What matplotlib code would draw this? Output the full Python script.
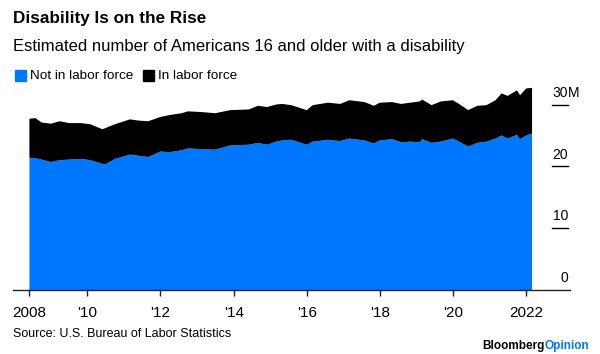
import matplotlib
matplotlib.use('agg')
import matplotlib.pyplot as plt
import pandas as pd

plt.rcParams['font.family'] = ['Liberation Sans', 'DejaVu Sans']

# values (millions)
months = ['2008-06', '2008-08', '2008-10', '2009-01', '2009-04', '2009-07', '2009-11',
          '2010-02', '2010-06', '2010-07', '2010-10', '2011-03', '2011-06', '2011-09',
          '2012-01', '2012-04', '2012-08', '2012-10', '2013-02', '2013-07', '2013-12',
          '2014-06', '2014-09', '2014-12', '2015-03', '2015-05', '2015-08', '2016-01',
          '2016-03', '2016-08', '2016-12', '2017-03', '2017-08', '2017-11', '2018-01',
          '2018-05', '2018-08', '2018-11', '2019-02', '2019-03', '2019-06', '2019-09',
          '2020-01', '2020-03', '2020-06', '2020-09', '2020-12', '2021-03', '2021-05',
          '2021-07', '2021-10', '2021-11', '2022-01', '2022-03']
not_in_lf = [21.4, 21.3, 21.1, 20.7, 21.0, 21.1, 21.2,
             21.0, 20.4, 20.3, 21.2, 21.9, 21.7, 21.5,
             22.4, 22.3, 22.6, 22.9, 22.8, 22.7, 23.4,
             23.5, 23.8, 23.5, 24.0, 24.2, 24.3, 23.5,
             24.0, 24.3, 24.1, 24.5, 24.2, 23.7, 24.2,
             24.4, 23.9, 24.0, 23.9, 24.4, 23.8, 24.0,
             24.5, 24.0, 23.2, 23.8, 24.0, 24.5, 25.0,
             24.5, 25.1, 24.4, 25.0, 25.3]
in_lf = [6.3, 6.5, 6.0, 6.2, 6.3, 5.9, 5.8,
         5.8, 5.6, 5.9, 5.6, 5.7, 5.7, 5.8,
         5.6, 6.0, 6.0, 6.0, 6.0, 5.9, 5.7,
         5.7, 6.0, 6.1, 6.0, 5.9, 5.6, 5.6,
         5.9, 6.0, 6.0, 6.2, 6.2, 6.1, 6.1,
         6.0, 6.2, 6.3, 6.6, 6.4, 6.1, 6.5,
         6.2, 6.1, 5.9, 6.0, 5.9, 6.2, 6.8,
         6.9, 7.2, 7.1, 7.6, 7.4]
tick_years = ['2008', "'10", "'12", "'14", "'16", "'18", "'20", '2022']
y_ticks = [0, 10, 20, 30]

BLUE = '#0077ff'
W, H = 600, 354


def fx(x):
    return x / W


def fy(y):
    return 1 - y / H


dates = pd.to_datetime(months)

fig = plt.figure(figsize=(6, 3.54), dpi=100)
ax = fig.add_axes([fx(13), fy(290), fx(570) - fx(13), fy(86) - fy(290)])

ax.stackplot(dates, not_in_lf, in_lf, colors=[BLUE, 'black'], linewidth=0)

ax.set_xlim(pd.Timestamp('2007-12-20'), pd.Timestamp('2023-03-15'))
ax.set_ylim(0, 33.0)

for s in ['top', 'right', 'left']:
    ax.spines[s].set_visible(False)
ax.spines['bottom'].set_color('#222222')
ax.spines['bottom'].set_linewidth(1)
ax.set_yticks([])

xt = [dates[0]] + [pd.Timestamp(f'{y}-01-01') for y in range(2010, 2023, 2)]
ax.set_xticks(xt)
ax.set_xticklabels(tick_years, fontsize=11)
ax.tick_params(axis='x', length=4.5, width=1, color='#222222', pad=7)

# y labels on the right, sitting above short tick marks
trans = ax.get_yaxis_transform()
x0 = (552 - 13) / 557
x1 = (568 - 13) / 557
for v in y_ticks:
    if v > 0:
        ax.plot([x0, x1], [v, v], transform=trans, color='black', lw=1, clip_on=False)
    ax.annotate(str(v), xy=(x1, v), xycoords=trans, xytext=(0, 8.5),
                textcoords='offset points', ha='right', va='center', fontsize=10)
ax.annotate('M', xy=(x1, y_ticks[-1]), xycoords=trans, xytext=(0, 8.5),
            textcoords='offset points', ha='left', va='center', fontsize=10)

fig.text(fx(13), fy(18), 'Disability Is on the Rise', fontsize=12.3,
         fontweight='bold', va='center', ha='left')
fig.text(fx(13), fy(47), 'Estimated number of Americans 16 and older with a disability',
         fontsize=12, va='center', ha='left')

# legend
fig.patches.append(plt.Rectangle((fx(15), fy(81)), fx(11), fy(70) - fy(81),
                                 transform=fig.transFigure, color=BLUE))
fig.text(fx(30), fy(76), 'Not in labor force', fontsize=9.7, va='center')
fig.patches.append(plt.Rectangle((fx(143), fy(81)), fx(11), fy(70) - fy(81),
                                 transform=fig.transFigure, color='black'))
fig.text(fx(158), fy(76), 'In labor force', fontsize=9.7, va='center')

fig.text(fx(13), fy(334), 'Source: U.S. Bureau of Labor Statistics', fontsize=9, va='center')
t = fig.text(fx(589), fy(346), 'Opinion', fontsize=8.5, fontweight='bold',
             color=BLUE, ha='right', va='center')
fig.canvas.draw()
bb = t.get_window_extent()
fig.text(bb.x0 / W, fy(346), 'Bloomberg', fontsize=8.5, fontweight='bold',
         color='black', ha='right', va='center')

fig.savefig('out.png', dpi=100)
